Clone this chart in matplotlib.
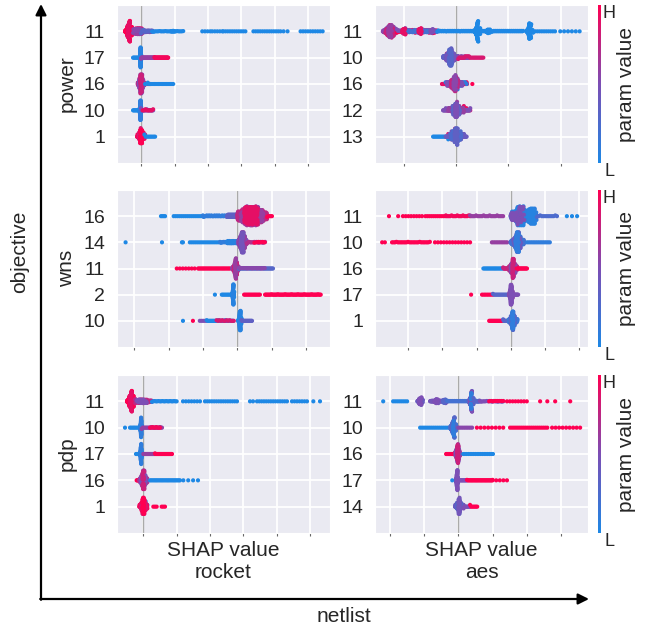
import numpy as np
import seaborn as sns
from matplotlib import pyplot as plt
from matplotlib.colors import LinearSegmentedColormap

sns.set_style("darkgrid")
plt.rcParams['font.family'] = ['Liberation Sans', 'DejaVu Sans']

# rows are listed top to bottom; each row is a list of point clusters
# (shap from, shap to, number of samples, param value 0=L .. 1=H)
feat_power_rocket = ["11", "17", "16", "10", "1"]
segs_power_rocket = [
    [(-0.48, -0.24, 80, 1.0), (-0.44, -0.30, 60, 1.0), (-0.40, -0.34, 45, 0.9), (-0.24, 0.05, 50, 0.85),
     (-0.2, 0.0, 35, 0.6), (-0.24, 0.33, 40, 0.55), (0.0, 0.35, 15, 0.3), (0.33, 1.26, 22, 0.0),
     (0.9, 1.0, 6, 0.0), (1.83, 2.07, 4, 0.0), (2.13, 2.43, 5, 0.0), (2.46, 3.12, 11, 0.0),
     (3.36, 4.17, 13, 0.0), (4.26, 4.38, 2, 0.0), (4.77, 5.43, 10, 0.0)],
    [(-0.24, -0.03, 10, 0.0), (-0.035, 0.005, 40, 0.0), (-0.025, -0.005, 60, 0.05), (0.0, 0.4, 35, 0.6),
     (0.4, 0.81, 35, 0.95)],
    [(0.15, 0.27, 6, 1.0), (-0.1, 0.1, 60, 0.7), (-0.06, 0.06, 50, 0.5), (-0.03, 0.03, 40, 0.8),
     (0.12, 0.96, 22, 0.0)],
    [(-0.24, -0.04, 10, 0.0), (-0.045, 0.005, 40, 0.0), (-0.03, -0.01, 50, 0.1), (0.0, 0.36, 18, 0.5),
     (0.05, 0.36, 9, 0.9)],
    [(-0.12, 0.12, 60, 0.95), (-0.07, 0.07, 50, 0.85), (-0.03, 0.03, 40, 1.0), (0.1, 0.42, 9, 0.0)],
]

feat_power_aes = ["11", "10", "16", "12", "13"]
segs_power_aes = [
    [(-1.40, -1.13, 60, 0.55), (-1.35, -1.18, 50, 0.8), (-1.30, -1.23, 20, 0.6), (-1.13, -0.36, 45, 1.0),
     (-1.13, -0.36, 40, 0.5), (-1.0, -0.5, 25, 0.2), (-1.03, -0.97, 15, 0.9), (-0.72, -0.66, 15, 0.9),
     (-0.49, -0.43, 12, 0.5), (-0.36, 0.33, 35, 0.0), (0.34, 0.46, 30, 0.0), (0.37, 0.43, 30, 0.0),
     (0.39, 0.41, 20, 0.0), (0.46, 1.28, 45, 0.0), (0.57, 0.65, 15, 0.0), (1.34, 1.46, 30, 0.0),
     (1.37, 1.43, 30, 0.0), (1.39, 1.41, 20, 0.0), (1.47, 1.89, 11, 0.0), (1.99, 2.36, 6, 0.0)],
    [(-0.2, 0.0, 10, 1.0), (-0.25, 0.04, 80, 0.35), (-0.19, -0.03, 70, 0.45), (-0.14, -0.08, 50, 0.3),
     (0.04, 0.25, 22, 0.55), (0.04, 0.52, 22, 0.85)],
    [(-0.27, 0.21, 50, 0.9), (-0.2, 0.2, 15, 0.1), (-0.18, 0.12, 60, 0.5), (-0.1, 0.04, 60, 0.75),
     (-0.05, 0.0, 30, 0.55), (0.31, 0.31, 1, 1.0)],
    [(-0.2, 0.2, 15, 0.95), (0.05, 0.27, 10, 0.9), (-0.25, 0.27, 50, 0.5), (-0.15, 0.15, 60, 0.6),
     (-0.07, 0.07, 50, 0.35), (-0.02, 0.02, 25, 0.5)],
    [(-0.15, 0.15, 15, 0.9), (-0.44, -0.15, 14, 0.0), (-0.2, 0.2, 50, 0.4), (-0.1, 0.1, 60, 0.25),
     (-0.03, 0.03, 30, 0.35)],
]

feat_wns_rocket = ["16", "14", "11", "2", "10"]
segs_wns_rocket = [
    [(-2.22, -2.10, 4, 0.0), (-1.85, -1.0, 16, 0.0), (-1.0, -0.3, 32, 0.1), (-0.3, 0.05, 45, 0.35),
     (0.0, 0.87, 250, 0.75), (0.1, 0.75, 150, 0.6), (0.2, 0.6, 100, 0.9), (0.87, 1.01, 5, 1.0)],
    [(-3.25, -3.25, 1, 0.0), (-2.19, -2.19, 1, 0.0), (-1.61, -1.58, 2, 0.0), (-1.38, -0.5, 16, 0.0),
     (-0.5, 0.02, 22, 0.1), (-0.3, 0.02, 32, 0.05), (0.02, 0.28, 80, 0.5), (0.06, 0.22, 60, 0.6),
     (0.1, 0.18, 40, 0.45), (0.28, 0.81, 18, 0.7), (0.5, 0.8, 6, 1.0)],
    [(-1.76, -1.24, 7, 1.0), (-1.14, -0.21, 28, 1.0), (-0.15, 0.05, 60, 0.6), (-0.1, 0.0, 50, 0.8),
     (-0.07, -0.03, 35, 0.6), (0.05, 1.04, 36, 0.3), (0.05, 0.8, 22, 0.55)],
    [(-0.65, -0.65, 1, 0.0), (-0.45, -0.16, 9, 0.0), (-0.15, -0.09, 40, 0.0), (-0.13, -0.11, 40, 0.05),
     (0.2, 0.66, 14, 1.0), (0.81, 2.43, 62, 1.0)],
    [(-1.58, -1.58, 1, 0.0), (-1.29, -1.29, 1, 1.0), (-1.09, -0.89, 5, 0.5), (-0.89, -0.12, 28, 0.0),
     (-0.6, -0.1, 13, 0.85), (0.03, 0.13, 40, 0.0), (0.06, 0.10, 50, 0.05), (0.12, 0.43, 16, 0.35)],
]

feat_wns_aes = ["11", "10", "16", "17", "1"]
segs_wns_aes = [
    [(-3.57, -3.57, 1, 1.0), (-3.3, -3.3, 1, 1.0), (-3.16, -2.6, 8, 1.0), (-2.5, -1.9, 11, 1.0),
     (-1.9, -1.19, 18, 0.95), (-1.19, -0.22, 23, 0.6), (0.0, 0.77, 120, 0.1), (0.15, 0.4, 60, 0.05),
     (0.5, 0.72, 50, 0.05), (0.0, 0.4, 30, 0.5), (0.77, 1.36, 13, 0.25), (1.65, 1.95, 3, 0.0)],
    [(-3.77, -3.69, 2, 1.0), (-3.48, -2.37, 27, 1.0), (-2.22, -1.19, 13, 1.0), (-0.55, -0.1, 10, 0.6),
     (0.0, 0.4, 80, 0.2), (0.08, 0.3, 60, 0.4), (0.14, 0.24, 40, 0.1), (0.48, 1.15, 14, 0.1)],
    [(-0.8, -0.22, 18, 0.0), (-0.22, 0.0, 14, 0.8), (-0.05, 0.2, 70, 0.75), (0.0, 0.14, 60, 0.55),
     (0.05, 0.09, 30, 0.8), (0.18, 0.48, 13, 1.0)],
    [(-1.16, -1.16, 1, 1.0), (-0.84, -0.52, 8, 1.0), (-0.52, -0.05, 16, 0.3), (-0.04, 0.06, 60, 0.55),
     (-0.01, 0.03, 50, 0.5), (0.05, 0.22, 10, 0.5)],
    [(-0.63, -0.22, 16, 1.0), (-0.22, -0.05, 11, 0.3), (-0.05, 0.2, 70, 0.15), (0.0, 0.12, 60, 0.3),
     (0.04, 0.08, 30, 0.1)],
]

feat_pdp_rocket = ["11", "10", "17", "16", "1"]
segs_pdp_rocket = [
    [(-0.49, -0.25, 80, 1.0), (-0.45, -0.30, 60, 1.0), (-0.41, -0.34, 45, 0.9), (-0.25, 0.26, 60, 0.75),
     (-0.2, 0.1, 40, 0.5), (0.26, 1.0, 20, 0.0), (1.19, 1.70, 7, 0.0), (1.85, 2.81, 15, 0.0),
     (3.2, 3.29, 2, 0.0), (3.41, 4.31, 14, 0.0), (4.46, 4.91, 7, 0.0), (5.1, 5.1, 1, 0.0),
     (5.3, 5.3, 1, 0.0)],
    [(-0.55, -0.55, 1, 0.0), (-0.4, -0.16, 7, 0.0), (-0.1, -0.04, 40, 0.0), (-0.08, -0.06, 50, 0.1),
     (-0.05, 0.56, 22, 0.6), (0.2, 0.5, 9, 0.95)],
    [(-0.22, -0.09, 7, 0.0), (-0.1, -0.04, 40, 0.0), (-0.08, -0.06, 50, 0.1), (0.0, 0.35, 22, 0.6),
     (0.35, 0.86, 30, 1.0)],
    [(-0.2, -0.15, 4, 1.0), (-0.12, 0.12, 60, 0.65), (-0.07, 0.07, 50, 0.5), (-0.03, 0.03, 30, 0.8),
     (0.2, 1.1, 26, 0.0), (1.2, 1.64, 4, 0.0)],
    [(0.05, 0.12, 5, 0.0), (-0.12, 0.12, 60, 0.95), (-0.07, 0.07, 50, 0.85), (-0.03, 0.03, 35, 1.0),
     (0.3, 0.4, 3, 1.0), (0.55, 0.65, 3, 1.0)],
]

feat_pdp_aes = ["11", "10", "16", "17", "14"]
segs_pdp_aes = [
    [(-2.2, -2.2, 1, 0.0), (-1.91, -1.5, 8, 0.0), (-1.2, -1.04, 30, 0.4), (-1.16, -1.08, 20, 0.5),
     (-0.83, -0.33, 38, 0.45), (-0.7, -0.6, 15, 0.5), (-0.45, -0.38, 12, 0.3), (-0.33, 0.25, 22, 0.2),
     (0.3, 0.44, 40, 0.3), (0.33, 0.41, 35, 0.5), (0.36, 0.38, 20, 0.1), (0.44, 0.63, 13, 0.3),
     (0.63, 1.31, 18, 0.5), (0.9, 1.31, 8, 1.0), (1.42, 2.0, 8, 1.0), (2.39, 2.39, 1, 1.0),
     (2.6, 2.6, 1, 1.0), (2.83, 2.83, 1, 1.0), (3.27, 3.27, 1, 1.0)],
    [(-1.12, -0.33, 15, 0.0), (-0.25, -0.05, 60, 0.2), (-0.2, -0.1, 50, 0.3), (-0.16, -0.13, 25, 0.1),
     (0.0, 0.4, 9, 0.55), (0.54, 1.31, 8, 1.0), (1.51, 2.6, 20, 1.0), (2.74, 3.56, 9, 1.0)],
    [(-0.36, -0.1, 13, 1.0), (-0.1, 0.05, 60, 0.7), (-0.07, 0.02, 50, 0.5), (-0.04, 0.0, 30, 0.8),
     (0.14, 1.01, 18, 0.0)],
    [(-0.18, -0.18, 1, 0.0), (-0.07, -0.01, 50, 0.45), (-0.05, -0.03, 45, 0.5), (0.0, 0.25, 13, 0.5),
     (0.25, 1.0, 32, 1.0), (1.0, 1.42, 5, 1.0)],
    [(-0.1, 0.15, 60, 0.4), (-0.05, 0.08, 50, 0.3), (0.0, 0.04, 30, 0.45), (0.15, 0.34, 9, 0.5),
     (0.34, 0.55, 7, 1.0)],
]

objectives = ["power", "wns", "pdp"]
netlists = ["rocket", "aes"]

cmap = LinearSegmentedColormap.from_list("red_blue", ["#1E88E5", "#7C4FB5", "#FF0052"])
text_col = "#262626"


def swarm_offsets(vals, nbins=100, row_height=0.45):
    # same binning/layering as shap's beeswarm
    quant = np.round(nbins * (vals - vals.min()) / (vals.max() - vals.min() + 1e-8))
    order = np.lexsort((vals, quant))
    ys = np.zeros(len(vals))
    layer, last_bin = 0, -1
    for ind in order:
        if quant[ind] != last_bin:
            layer = 0
        ys[ind] = np.ceil(layer / 2) * ((layer % 2) * 2 - 1)
        layer += 1
        last_bin = quant[ind]
    ys *= 0.9 * (row_height / np.max(ys + 1))
    return ys


def beeswarm(ax, feats, segs, xlim, xticks):
    n = len(feats)
    for i, row in enumerate(segs):
        pos = n - 1 - i
        xs = np.concatenate([np.linspace(a, b, k) for a, b, k, c in row])
        cs = np.concatenate([np.full(k, c) for a, b, k, c in row])
        ys = swarm_offsets(xs)
        ax.scatter(xs, pos + ys, c=cs, cmap=cmap, vmin=0, vmax=1, s=9, linewidths=0, zorder=3)
    ax.axvline(0, color="#aaaaaa", lw=1, zorder=1)
    ax.set_ylim(-1, n)
    ax.set_yticks(range(n))
    ax.set_yticklabels(feats[::-1])
    ax.set_xlim(*xlim)
    ax.set_xticks(xticks)
    ax.set_xticklabels([])
    ax.grid(True, color="white", lw=1.3)
    ax.tick_params(axis="y", labelsize=14, pad=8.5, length=0, labelcolor=text_col)
    ax.tick_params(axis="x", bottom=True, length=2.5, width=0.8, color="#666666")


fig = plt.figure(figsize=(6.62, 6.28), dpi=100)
W, H = 662, 628

panels = {
    (0, 0): (feat_power_rocket, segs_power_rocket, (-0.72, 5.65), range(0, 6)),
    (0, 1): (feat_power_aes, segs_power_aes, (-1.55, 2.52), range(-1, 3)),
    (1, 0): (feat_wns_rocket, segs_wns_rocket, (-3.5, 2.7), range(-3, 3)),
    (1, 1): (feat_wns_aes, segs_wns_aes, (-3.98, 2.27), range(-3, 3)),
    (2, 0): (feat_pdp_rocket, segs_pdp_rocket, (-0.79, 5.6), range(0, 6)),
    (2, 1): (feat_pdp_aes, segs_pdp_aes, (-2.44, 3.79), range(-2, 4)),
}
col_x = [117, 375]
row_y = [(5, 163), (190, 347), (375, 533)]
pw = 213

for (r, c), (feats, segs, xlim, xticks) in panels.items():
    top, bot = row_y[r]
    ax = fig.add_axes([col_x[c] / W, 1 - bot / H, pw / W, (bot - top) / H])
    beeswarm(ax, feats, segs, xlim, xticks)
    if c == 0:
        ax.set_ylabel(objectives[r], fontsize=15, color=text_col)
        ax.yaxis.set_label_coords(-0.19, 0.5)
    if r == 2:
        ax.set_xlabel("SHAP value\n" + netlists[c], fontsize=15, color=text_col, linespacing=1.2)
        ax.xaxis.set_label_coords(0.5, -0.05)
    if c == 1:
        cax = fig.add_axes([598 / W, 1 - bot / H, 3 / W, (bot - top) / H])
        cax.imshow(np.linspace(1, 0, 256)[:, None], aspect="auto", cmap=cmap)
        cax.set_axis_off()
        fig.text(603 / W, 1 - top / H, "H", fontsize=13, ha="left", va="top", color=text_col)
        fig.text(604 / W, 1 - bot / H, "L", fontsize=13, ha="left", va="top", color=text_col)
        fig.text(627 / W, 1 - (top + bot) / 2 / H, "param value", fontsize=15, rotation=90,
                 ha="center", va="center", color=text_col)

# outer axes arrows
arrow = dict(arrowstyle="-|>", color="black", lw=1.6, mutation_scale=16, shrinkA=0, shrinkB=0)
plt.annotate("", xy=(41 / W, 1 - 4 / H), xytext=(41 / W, 1 - 599.8 / H), xycoords="figure fraction",
             textcoords="figure fraction", arrowprops=arrow)
plt.annotate("", xy=(589 / W, 1 - 599 / H), xytext=(40.2 / W, 1 - 599 / H), xycoords="figure fraction",
             textcoords="figure fraction", arrowprops=arrow)
fig.text(20 / W, 1 - 252 / H, "objective", fontsize=15, rotation=90, ha="center", va="center", color=text_col)
fig.text(344 / W, 1 - 617 / H, "netlist", fontsize=15, ha="center", va="center", color=text_col)

plt.savefig("out.png", dpi=100)
